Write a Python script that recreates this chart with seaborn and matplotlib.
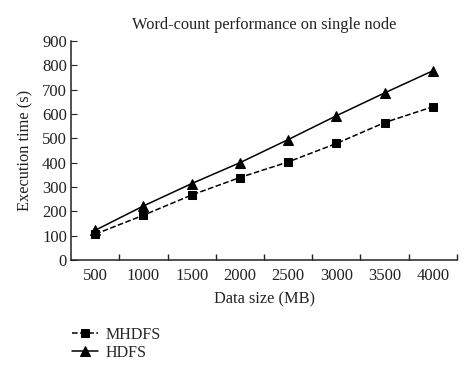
import pandas as pd
import seaborn as sb
import matplotlib.pyplot as plt
from matplotlib.ticker import FixedLocator

sizes=['500','1000','1500','2000','2500','3000','3500','4000']
mhdfs=[106,184,267,339,403,479,565,630]
hdfs=[122,222,314,400,495,593,687,778]

df=pd.DataFrame({'size':sizes*2,
                 'time':mhdfs+hdfs,
                 'system':['MHDFS']*len(sizes)+['HDFS']*len(sizes)})

sb.set_style('ticks')
plt.rcParams['font.family']=['Liberation Serif','DejaVu Serif']

fig=plt.figure(figsize=(4.74,3.74),dpi=100)
ax=fig.add_axes([0.150,0.305,0.814,0.585])

sb.lineplot(data=df[df.system=='MHDFS'],x='size',y='time',ax=ax,color='black',
            linestyle='--',marker='s',markersize=6,lw=1.1,label='MHDFS',
            markeredgecolor='black')
sb.lineplot(data=df[df.system=='HDFS'],x='size',y='time',ax=ax,color='black',
            linestyle='-',marker='^',markersize=6.5,lw=1.1,label='HDFS',
            markeredgecolor='black')

ax.set_xlim(-0.5,7.5)
ax.set_ylim(0,900)
ax.set_yticks(range(0,901,100))
ax.xaxis.set_minor_locator(FixedLocator([i+0.5 for i in range(8)]))
ax.tick_params(axis='x',which='major',length=0,labelsize=12,pad=6,colors='#222222')
ax.tick_params(axis='x',which='minor',length=4,direction='in',width=1,color='#222222')
ax.tick_params(axis='y',length=4,direction='in',labelsize=12,pad=3,colors='#222222')
for s in ['top','right']:
    ax.spines[s].set_visible(False)
for s in ['left','bottom']:
    ax.spines[s].set_linewidth(1.1)
    ax.spines[s].set_color('#222222')

ax.set_title('Word-count performance on single node',fontsize=11.8,pad=9,color='#222222')
ax.set_xlabel('Data size (MB)',fontsize=11.8,labelpad=5,color='#222222')
ax.set_ylabel('Execution time (s)',fontsize=11.8,labelpad=6,color='#222222')

ax.legend(loc='upper left',bbox_to_anchor=(0.135,0.148),bbox_transform=fig.transFigure,
          frameon=False,fontsize=11.5,handlelength=1.6,handletextpad=0.5,
          labelspacing=0.12,borderpad=0)

fig.savefig('out.png',dpi=100)
